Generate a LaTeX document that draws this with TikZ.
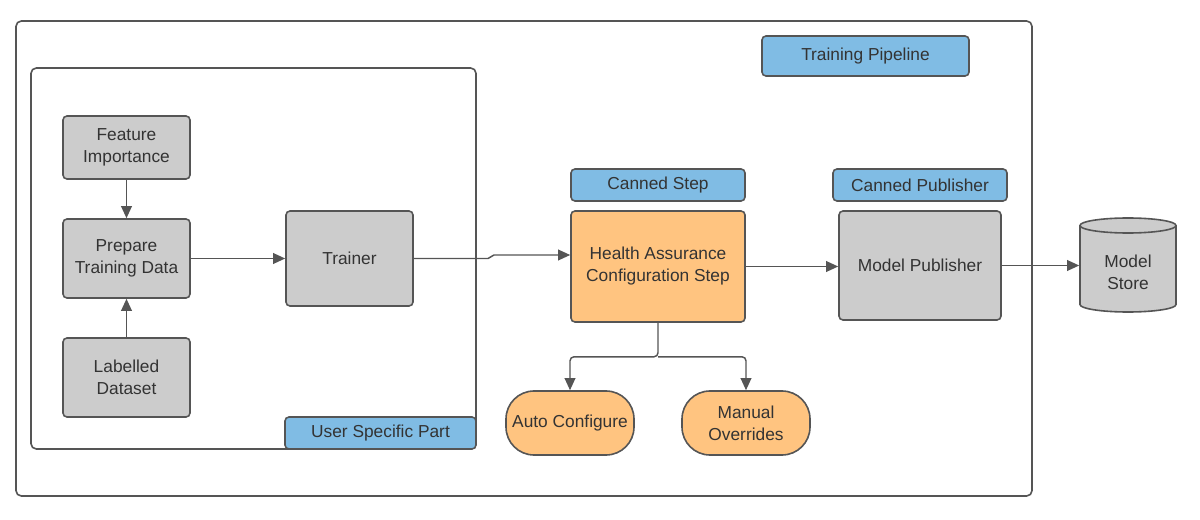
\documentclass[tikz,border=0pt]{standalone}
\usepackage{fontspec}
\setmainfont{Liberation Sans}
\usetikzlibrary{calc}
\usetikzlibrary{arrows.meta}

\definecolor{edgegray}{RGB}{85,85,85}
\definecolor{boxgray}{RGB}{204,204,204}
\definecolor{tagblue}{RGB}{128,188,228}
\definecolor{stepamber}{RGB}{255,196,128}
\definecolor{textgray}{RGB}{51,51,51}

\tikzset{
  base/.style={draw=edgegray, line width=1.2pt, rounded corners=3pt, align=center,
    text=textgray, inner sep=2pt, font=\fontsize{13}{16.5}\selectfont},
  graybox/.style={base, fill=boxgray},
  tagbox/.style={base, fill=tagblue, minimum height=24pt},
  ambox/.style={base, fill=stepamber},
  pill/.style={base, fill=stepamber, rounded corners=21pt, minimum width=96pt, minimum height=48pt},
  conn/.style={draw=edgegray, line width=1.1pt, -{Triangle[length=9pt,width=8pt]}},
  frame/.style={draw=edgegray, line width=1.2pt, rounded corners=4pt}
}

\begin{document}
\begin{tikzpicture}[x=0.75pt,y=0.75pt,yscale=-1,xscale=1]
\useasboundingbox (0,0) rectangle (1200,520);

%Shape: Rectangle [outer frame]
\draw[frame] (16,21) rectangle (1032,496);
%Shape: Rectangle [user part]
\draw[frame] (31,68) rectangle (476,449);

% Text Node
\node[tagbox, minimum width=155.25pt, minimum height=30pt] (pipe) at (865.5,56) {Training Pipeline};
% Text Node
\node[tagbox, minimum width=143.25pt] (usp) at (380.5,433) {User Specific Part};
% Text Node
\node[tagbox, minimum width=130.5pt] (cstep) at (658,185) {Canned Step};
% Text Node
\node[tagbox, minimum width=130.5pt] (cpub) at (920,185) {Canned Publisher};

% Text Node
\node[graybox, minimum width=95.25pt, minimum height=47.25pt] (feat) at (126.5,147.5) {Feature\\Importance};
% Text Node
\node[graybox, minimum width=95.25pt, minimum height=59.25pt] (prep) at (126.5,258.5) {Prepare\\Training Data};
% Text Node
\node[graybox, minimum width=95.25pt, minimum height=59.25pt] (lab) at (126.5,377.5) {Labelled\\Dataset};
% Text Node
\node[graybox, minimum width=95.25pt, minimum height=71.25pt] (trainer) at (349.5,258.5) {Trainer};
% Text Node
\node[ambox, minimum width=130.5pt, minimum height=83.25pt] (hac) at (658,266.5) {Health Assurance\\Configuration Step};
% Text Node
\node[graybox, minimum width=121.5pt, minimum height=81.75pt] (pub) at (920,265.5) {Model Publisher};

%Shape: Can [model store]
\filldraw[draw=edgegray, fill=boxgray, line width=1.2pt] (1080,225.5) -- (1080,304.5)
  arc[start angle=180, end angle=0, x radius=48, y radius=7.5] -- (1176,225.5)
  arc[start angle=360, end angle=180, x radius=48, y radius=7.5] -- cycle;
\draw[draw=edgegray, line width=1.2pt] (1080,225.5) arc[start angle=180, end angle=0, x radius=48, y radius=7.5];
% Text Node
\node[base, draw=none, minimum width=72pt] (store) at (1128,272) {Model\\Store};

% Text Node
\node[pill] (auto) at (570,423) {Auto Configure};
% Text Node
\node[pill] (manual) at (746,423) {Manual\\Overrides};

%Straight Lines
\draw[conn] (feat) -- (prep);
\draw[conn] (lab) -- (prep);
\draw[conn] (prep) -- (trainer);
\draw[conn, rounded corners=1.5pt] (trainer.east) -- (490,258.5) -- (492,255) -- ($(hac.west)+(0,-11.5)$);
\draw[conn] (hac.east) -- (hac.east -| pub.west);
\draw[conn] (pub.east) -- (pub.east -| store.west);
\coordinate (split) at ($(hac.south)+(0,34)$);
\draw[conn, rounded corners=3pt] (hac.south) -- (split) -| (auto.north);
\draw[conn, rounded corners=3pt] (split) -| (manual.north);

\end{tikzpicture}
\end{document}
